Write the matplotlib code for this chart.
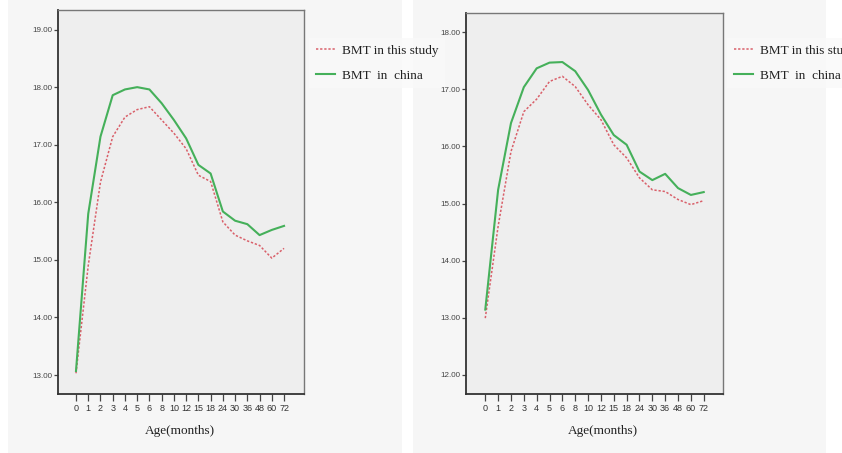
import matplotlib
matplotlib.use("Agg")
import matplotlib.pyplot as plt
from matplotlib.patches import Rectangle

ages = ["0", "1", "2", "3", "4", "5", "6", "8", "10", "12", "15", "18", "24", "30", "36", "48", "60", "72"]

left_study = [13.03, 14.9, 16.35, 17.14, 17.48, 17.61, 17.66, 17.43, 17.2, 16.93, 16.47, 16.36, 15.66, 15.43, 15.33, 15.25, 15.03, 15.2]
left_china = [13.07, 15.8, 17.14, 17.86, 17.96, 18.0, 17.96, 17.72, 17.43, 17.11, 16.65, 16.5, 15.84, 15.68, 15.62, 15.43, 15.52, 15.59]

right_study = [12.99, 14.6, 15.91, 16.61, 16.83, 17.14, 17.23, 17.05, 16.73, 16.47, 16.03, 15.8, 15.45, 15.24, 15.21, 15.07, 14.98, 15.05]
right_china = [13.14, 15.24, 16.41, 17.04, 17.37, 17.47, 17.48, 17.32, 16.99, 16.56, 16.2, 16.03, 15.56, 15.41, 15.52, 15.27, 15.15, 15.2]

left_yticks = [13, 14, 15, 16, 17, 18, 19]
right_yticks = [12, 13, 14, 15, 16, 17, 18]

label_study = "BMT in this study"
label_china = "BMT  in  china"
xlabel = "Age(months)"

W, H = 842, 453
fig = plt.figure(figsize=(W / 100, H / 100), dpi=100)
fig.patch.set_facecolor("white")

# panel backgrounds (screenshot look)
bg1 = Rectangle((8 / W, 0.0), (402 - 8) / W, 1.0, transform=fig.transFigure,
                facecolor="#f6f6f6", edgecolor="none", zorder=-10)
bg2 = Rectangle((413 / W, 0.0), (826 - 413) / W, 1.0, transform=fig.transFigure,
                facecolor="#f6f6f6", edgecolor="none", zorder=-10)
fig.add_artist(bg1)
fig.add_artist(bg2)

RED = "#d9606a"
GREEN = "#45b05a"


def make_panel(rect_px, study, china, yticks, ylim, xlim, leg_xy, xlabel_x):
    x0, y0, x1, y1 = rect_px
    ax = fig.add_axes([x0 / W, 1 - y1 / H, (x1 - x0) / W, (y1 - y0) / H])
    ax.set_zorder(1)
    ax.set_facecolor("#eeeeee")
    xs = list(range(len(ages)))
    ax.plot(xs, study, color=RED, lw=1.1, ls=(0, (1.5, 1.2)), label=label_study)
    ax.plot(xs, china, color=GREEN, lw=1.5, label=label_china)
    ax.set_xlim(*xlim)
    ax.set_ylim(*ylim)
    ax.set_xticks(xs)
    ax.set_xticklabels(ages, fontsize=6.5, family="Liberation Sans", color="#333333")
    ax.set_yticks(yticks)
    ax.set_yticklabels([f"{v:.2f}" for v in yticks], fontsize=5.8, family="Liberation Sans", color="#444444")
    ax.tick_params(axis="x", direction="out", length=5, width=0.9, color="#444444", pad=2)
    ax.tick_params(axis="y", direction="out", length=3, width=0.9, color="#444444", pad=1)
    for side in ["left", "bottom"]:
        ax.spines[side].set_color("#333333")
        ax.spines[side].set_linewidth(1.3)
    for side in ["top", "right"]:
        ax.spines[side].set_color("#777777")
        ax.spines[side].set_linewidth(1.0)
    fig.text(xlabel_x / W, 1 - 431 / H, xlabel, ha="center", va="center",
             family="Liberation Serif", fontsize=9.5, color="#222222", zorder=5)
    leg = ax.legend(loc="upper left", bbox_to_anchor=(leg_xy[0] / W, 1 - leg_xy[1] / H),
                    bbox_transform=fig.transFigure, frameon=True, fancybox=False,
                    prop={"family": "Liberation Serif", "size": 9.5}, handlelength=1.5,
                    handletextpad=0.5, labelspacing=0.95, borderpad=0.5, borderaxespad=0)
    leg.get_frame().set_facecolor("#f9f9f9")
    leg.get_frame().set_edgecolor("none")
    for t in leg.get_texts():
        t.set_color("#222222")
    return ax


make_panel((58, 10, 304, 394), left_study, left_china, left_yticks,
           (12.67, 19.34), (-1.47, 18.63), (309, 38), 180)
make_panel((466, 13, 723, 394), right_study, right_china, right_yticks,
           (11.66, 18.34), (-1.5, 18.5), (727, 38), 603)

fig.savefig("out.png", dpi=100, facecolor=fig.get_facecolor())
